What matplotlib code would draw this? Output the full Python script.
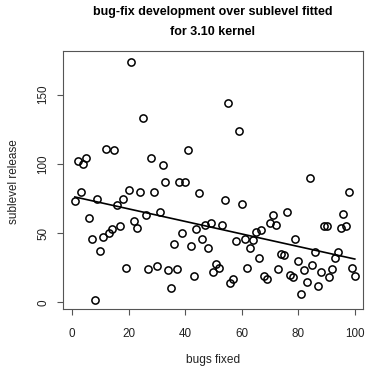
import numpy as np
import matplotlib
matplotlib.use("Agg")
import matplotlib.pyplot as plt

plt.rcParams['font.family'] = ['Liberation Sans', 'DejaVu Sans']

# bugs fixed per sublevel (x) and sublevel release number (y)
bugs_fixed = list(range(1, 101))
sublevel = [73, 102, 80, 100, 104, 61, 46, 2, 75, 37,
            47, 111, 50, 53, 110, 70, 55, 75, 25, 81,
            174, 59, 54, 80, 133, 63, 24, 104, 80, 26,
            65, 99, 87, 23, 10, 42, 24, 87, 50, 87,
            110, 41, 19, 53, 79, 46, 56, 39, 57, 22,
            28, 25, 56, 74, 144, 14, 17, 44, 124, 71,
            46, 25, 39, 45, 51, 32, 52, 19, 17, 57,
            63, 56, 24, 35, 34, 65, 20, 18, 46, 30,
            6, 23, 15, 90, 27, 36, 12, 22, 55, 55,
            18, 24, 32, 36, 54, 64, 55, 80, 25, 19]
x_ticks = [0, 20, 40, 60, 80, 100]
y_ticks = [0, 50, 100, 150]

x = np.array(bugs_fixed)
y = np.array(sublevel)

# linear fit
slope, intercept = np.polyfit(x, y, 1)
fitted = slope * x + intercept

fig = plt.figure(figsize=(3.66, 3.67), dpi=100)
ax = fig.add_axes([63 / 366, 1 - 309 / 367, 300 / 366, 258 / 367])

ax.plot(x, y, 'o', markersize=5.2, markerfacecolor='none',
        markeredgecolor='black', markeredgewidth=1.1)
ax.plot(x, fitted, color='black', linewidth=1.2)

ax.set_xlim(-3.2, 102.9)
ax.set_ylim(-4.85, 181.6)
ax.set_xticks(x_ticks)
ax.set_yticks(y_ticks)
ax.set_yticklabels([str(v) for v in y_ticks], rotation=90, va='center')

for sp in ax.spines.values():
    sp.set_color('#555555')
    sp.set_linewidth(0.8)
ax.tick_params(axis='both', direction='out', length=4.3, width=0.8,
               color='#555555', labelsize=8.4, labelcolor='#222222')
ax.tick_params(axis='x', pad=9.5)
ax.tick_params(axis='y', pad=5.5)

fig.text(213 / 366, 1 - 6 / 367,
         'bug-fix development over sublevel fitted\nfor 3.10 kernel',
         ha='center', va='top', fontsize=9, fontweight='bold',
         linespacing=1.9)
fig.text(213 / 366, 1 - 360 / 367, 'bugs fixed', ha='center', va='center',
         fontsize=8.6, color='#222222')
fig.text(14 / 366, 1 - 182 / 367, 'sublevel release', ha='center',
         va='center', rotation=90, fontsize=8.5, color='#222222')

fig.savefig('out.png', dpi=100)
